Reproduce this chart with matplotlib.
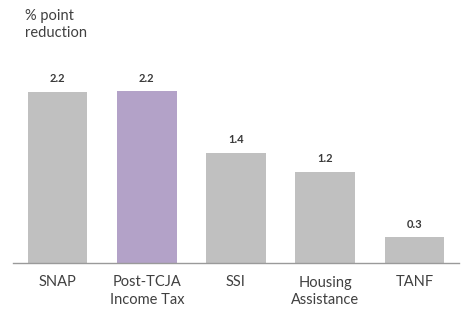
import matplotlib
matplotlib.use("Agg")
import matplotlib.pyplot as plt

plt.rcParams['font.family'] = ['Lato', 'DejaVu Sans']

categories = ["SNAP", "Post-TCJA\nIncome Tax", "SSI", "Housing\nAssistance", "TANF"]
values = [2.2, 2.21, 1.42, 1.17, 0.33]
labels = ["2.2", "2.2", "1.4", "1.2", "0.3"]
colors = ["#C0C0C0", "#B3A2C8", "#C0C0C0", "#C0C0C0", "#C0C0C0"]

fig = plt.figure(figsize=(4.70, 3.29), dpi=100)
ax = fig.add_axes([13/470, 66/329, 446/470, (263-40)/329])
x = range(len(categories))
ax.bar(x, values, width=0.67, color=colors)
for xi, v, lab in zip(x, values, labels):
    ax.text(xi, v + 0.1, lab, ha='center', va='bottom', fontsize=8, fontweight='bold', color='#3a3a3a')
ax.set_xlim(-0.5, 4.5)
ax.set_ylim(0, (263-40)/77.7)
ax.set_xticks(list(x))
ax.set_xticklabels(categories, fontsize=10.5, color='#404040', linespacing=1.3)
ax.tick_params(axis='x', length=0, pad=9)
ax.set_yticks([])
for s in ['top', 'right', 'left']:
    ax.spines[s].set_visible(False)
ax.spines['bottom'].set_color('#9a9a9a')
ax.spines['bottom'].set_linewidth(1.0)
fig.text(25/470, 1 - 9/329, "% point\nreduction", ha='left', va='top', fontsize=10.5, color='#404040', linespacing=1.3)
fig.savefig("out.png", dpi=100)
